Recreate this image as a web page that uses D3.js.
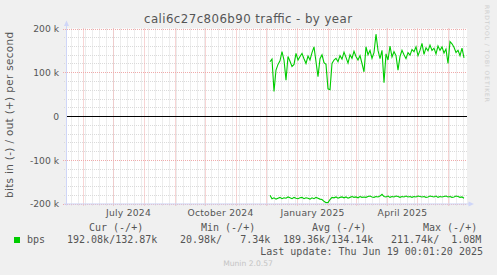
<!DOCTYPE html>
<html>
    <head>
        <meta charset="utf-8">
        <title>cali6c27c806b90 traffic - by year</title>
        <style>
            body { margin: 0; background: #f0f0f0; }
            text { font-family: "DejaVu Sans", sans-serif; fill: #555; }
            .mono { font-family: "DejaVu Sans Mono", monospace; white-space: pre; }
        </style>
    </head>
    <body>
        <script src="https://cdnjs.cloudflare.com/ajax/libs/d3/7.8.5/d3.min.js"></script>
        <script>

            // data, in k bits per second, one sample every 2 days from Dec 5 2024
            var firstDay = new Date(2024, 11, 5);
            var stepDays = 2;

            var outValues = [
                124,130,56,105,118,126,147,128,82,136,
                125,113,118,143,128,136,143,131,120,137,
                128,145,158,124,90,131,140,122,118,62,
                60,120,128,132,124,138,130,146,134,121,
                140,132,148,136,128,138,120,101,158,140,
                150,132,145,187,150,131,150,76,142,128,
                160,135,147,138,105,136,150,140,131,145,
                139,152,147,158,138,150,166,141,156,149,
                162,150,155,142,160,150,158,144,153,120,
                170,165,157,145,150,138,155,133
            ];

            var inValues = [
                -181,-189,-187,-190,-188,-186,-189,-187,-188,-185,
                -187,-189,-186,-188,-189,-187,-186,-189,-187,-188,
                -190,-187,-189,-186,-188,-190,-191,-195,-198,-198,
                -191,-186,-187,-185,-188,-186,-185,-187,-185,-188,
                -186,-184,-186,-185,-187,-184,-186,-185,-186,-184,
                -183,-185,-186,-184,-185,-183,-179,-184,-185,-183,
                -186,-184,-185,-183,-184,-186,-184,-185,-183,-185,
                -184,-186,-184,-185,-183,-184,-185,-184,-186,-185,
                -183,-184,-185,-183,-186,-184,-185,-184,-183,-185,
                -184,-186,-185,-183,-184,-186,-185,-188
            ];

            var yTicks = [-200, -100, 0, 100, 200];
            var xLabels = ["July 2024", "October 2024", "January 2025", "April 2025"];
            var xLabelMonths = [new Date(2024, 6, 1), new Date(2024, 9, 1), new Date(2025, 0, 1), new Date(2025, 3, 1)];

            var legendHeads = ["Cur (-/+)", "Min (-/+)", "Avg (-/+)", "Max (-/+)"];
            var legendValues = ["192.08k/132.87k", "20.98k/   7.34k", "189.36k/134.14k", "211.74k/  1.08M"];

            //size and scales
            var width = 497, height = 275;
            var plotL = 66, plotR = 466, plotT = 28.5, plotB = 203.5;
            var green = "#00cc00";
            var axisColor = "#cfd6f8";

            var x = d3.scaleTime()
                    .domain([new Date(2024, 4, 15), new Date(2025, 5, 19)])
                    .range([plotL, plotR]);
            var y = d3.scaleLinear()
                    .domain([-200, 200])
                    .range([plotB, plotT]);

            var svg = d3.select("body")
                    .append("svg")
                    .attr("width", width)
                    .attr("height", height);

            svg.append("rect")
                    .attr("width", width).attr("height", height)
                    .attr("fill", "#f0f0f0");

            svg.append("rect")
                    .attr("x", plotL).attr("y", plotT)
                    .attr("width", plotR - plotL + 1).attr("height", plotB - plotT)
                    .attr("fill", "#ffffff");

            // grid
            var grid = svg.append("g").attr("stroke-dasharray", "1,1").attr("stroke-width", 1);

            var weeks = d3.timeMonday.range(x.domain()[0], x.domain()[1]);
            var months = d3.timeMonth.range(x.domain()[0], x.domain()[1]);
            var minorY = d3.range(-200, 201, 20).filter(function(d) { return d % 100 !== 0; });

            grid.selectAll("line.wk")
                    .data(weeks)
                    .enter().append("line")
                    .attr("x1", function(d) { return Math.round(x(d)) + 0.5; })
                    .attr("x2", function(d) { return Math.round(x(d)) + 0.5; })
                    .attr("y1", plotT).attr("y2", plotB + 2)
                    .attr("stroke", "#dadada");

            grid.selectAll("line.my")
                    .data(minorY)
                    .enter().append("line")
                    .attr("x1", plotL - 2).attr("x2", plotR + 1)
                    .attr("y1", function(d) { return Math.round(y(d)) + 0.5; })
                    .attr("y2", function(d) { return Math.round(y(d)) + 0.5; })
                    .attr("stroke", "#dadada");

            grid.selectAll("line.mo")
                    .data(months)
                    .enter().append("line")
                    .attr("x1", function(d) { return Math.round(x(d)) + 0.5; })
                    .attr("x2", function(d) { return Math.round(x(d)) + 0.5; })
                    .attr("y1", plotT).attr("y2", plotB + 3)
                    .attr("stroke", "#efaaaa");

            grid.selectAll("line.My")
                    .data(yTicks.filter(function(d) { return d !== 0; }))
                    .enter().append("line")
                    .attr("x1", plotL - 3).attr("x2", plotR + 1)
                    .attr("y1", function(d) { return Math.round(y(d)) + 0.5; })
                    .attr("y2", function(d) { return Math.round(y(d)) + 0.5; })
                    .attr("stroke", "#efaaaa");

            // series
            function dayOf(i) {
              return d3.timeDay.offset(firstDay, i * stepDays);
            }

            var line = d3.line()
                    .x(function(d, i) { return x(dayOf(i)); })
                    .y(function(d) { return y(d); });

            svg.append("path")
                    .attr("d", line(inValues))
                    .attr("fill", "none")
                    .attr("stroke", green)
                    .attr("stroke-width", 1.1);

            svg.append("path")
                    .attr("d", line(outValues))
                    .attr("fill", "none")
                    .attr("stroke", green)
                    .attr("stroke-width", 1.1);

            // zero line
            svg.append("line")
                    .attr("x1", plotL).attr("x2", plotR + 1)
                    .attr("y1", Math.round(y(0)) + 0.5).attr("y2", Math.round(y(0)) + 0.5)
                    .attr("stroke", "#000");

            // axes lines with arrows
            svg.append("line")
                    .attr("x1", plotL + 0.5).attr("x2", plotL + 0.5)
                    .attr("y1", plotB + 2).attr("y2", 24)
                    .attr("stroke", axisColor);
            svg.append("line")
                    .attr("x1", plotL - 2).attr("x2", 470)
                    .attr("y1", plotB + 0.5).attr("y2", plotB + 0.5)
                    .attr("stroke", axisColor);
            svg.append("path")
                    .attr("d", "M" + (plotL + 0.5) + ",20.5L" + (plotL + 3) + ",26L" + (plotL - 2) + ",26Z")
                    .attr("fill", axisColor);
            svg.append("path")
                    .attr("d", "M474," + (plotB + 0.5) + "L468.5," + (plotB - 2) + "L468.5," + (plotB + 3) + "Z")
                    .attr("fill", axisColor);

            // tick labels
            var yAxis = d3.axisLeft(y)
                    .tickValues(yTicks)
                    .tickSize(0)
                    .tickPadding(0)
                    .tickFormat(function(d) { return d === 0 ? "0" : d + " k"; });

            var ya = svg.append("g")
                    .attr("transform", "translate(59,0)")
                    .call(yAxis);
            ya.select(".domain").remove();
            ya.selectAll("text")
                    .attr("font-family", "DejaVu Sans")
                    .attr("font-size", "9.2px")
                    .attr("fill", "#555")
                    .attr("dy", "0.36em");

            var xAxis = d3.axisBottom(x)
                    .tickValues(xLabelMonths.map(function(d) { return d3.timeDay.offset(d, 15); }))
                    .tickSize(0)
                    .tickPadding(0)
                    .tickFormat(function(d, i) { return xLabels[i]; });

            var xa = svg.append("g")
                    .attr("transform", "translate(0,209)")
                    .call(xAxis);
            xa.select(".domain").remove();
            xa.selectAll("text")
                    .attr("font-family", "DejaVu Sans")
                    .attr("font-size", "9.2px")
                    .attr("letter-spacing", "0.25px")
                    .attr("fill", "#555")
                    .attr("dy", "0.76em");

            // titles
            svg.append("text")
                    .attr("x", 248).attr("y", 23.3)
                    .attr("text-anchor", "middle")
                    .attr("font-size", "11.8px")
                    .attr("textLength", 208)
                    .attr("lengthAdjust", "spacing")
                    .text("cali6c27c806b90 traffic - by year");

            svg.append("text")
                    .attr("transform", "translate(12.8,115) rotate(-90)")
                    .attr("text-anchor", "middle")
                    .attr("font-size", "10.4px")
                    .attr("textLength", 166)
                    .attr("lengthAdjust", "spacing")
                    .text("bits in (-) / out (+) per second");

            svg.append("text")
                    .attr("transform", "translate(485,5) rotate(90)")
                    .attr("font-size", "6px")
                    .attr("textLength", 97)
                    .attr("lengthAdjust", "spacing")
                    .style("fill", "#cfcfcf")
                    .text("RRDTOOL / TOBI OETIKER");

            // legend
            var headX = [89, 201, 312, 423];
            var valX = [67, 180, 283, 391];

            svg.selectAll("text.head")
                    .data(legendHeads)
                    .enter().append("text")
                    .attr("class", "mono")
                    .attr("x", function(d, i) { return headX[i]; })
                    .attr("y", 230.8)
                    .attr("font-size", "10px")
                    .text(function(d) { return d; });

            svg.append("rect")
                    .attr("x", 14).attr("y", 237)
                    .attr("width", 6).attr("height", 6)
                    .attr("fill", green);

            svg.append("text")
                    .attr("class", "mono")
                    .attr("x", 27).attr("y", 242.7)
                    .attr("font-size", "10px")
                    .text("bps");

            svg.selectAll("text.val")
                    .data(legendValues)
                    .enter().append("text")
                    .attr("class", "mono")
                    .attr("x", function(d, i) { return valX[i]; })
                    .attr("y", 242.7)
                    .attr("font-size", "10px")
                    .text(function(d) { return d; });

            svg.append("text")
                    .attr("class", "mono")
                    .attr("x", 483).attr("y", 254.5)
                    .attr("text-anchor", "end")
                    .attr("font-size", "10px")
                    .text("Last update: Thu Jun 19 00:01:20 2025");

            svg.append("text")
                    .attr("x", 248).attr("y", 266)
                    .attr("text-anchor", "middle")
                    .attr("font-size", "7.6px")
                    .style("fill", "#c4c4c4")
                    .text("Munin 2.0.57");

        </script>
    </body>
</html>
